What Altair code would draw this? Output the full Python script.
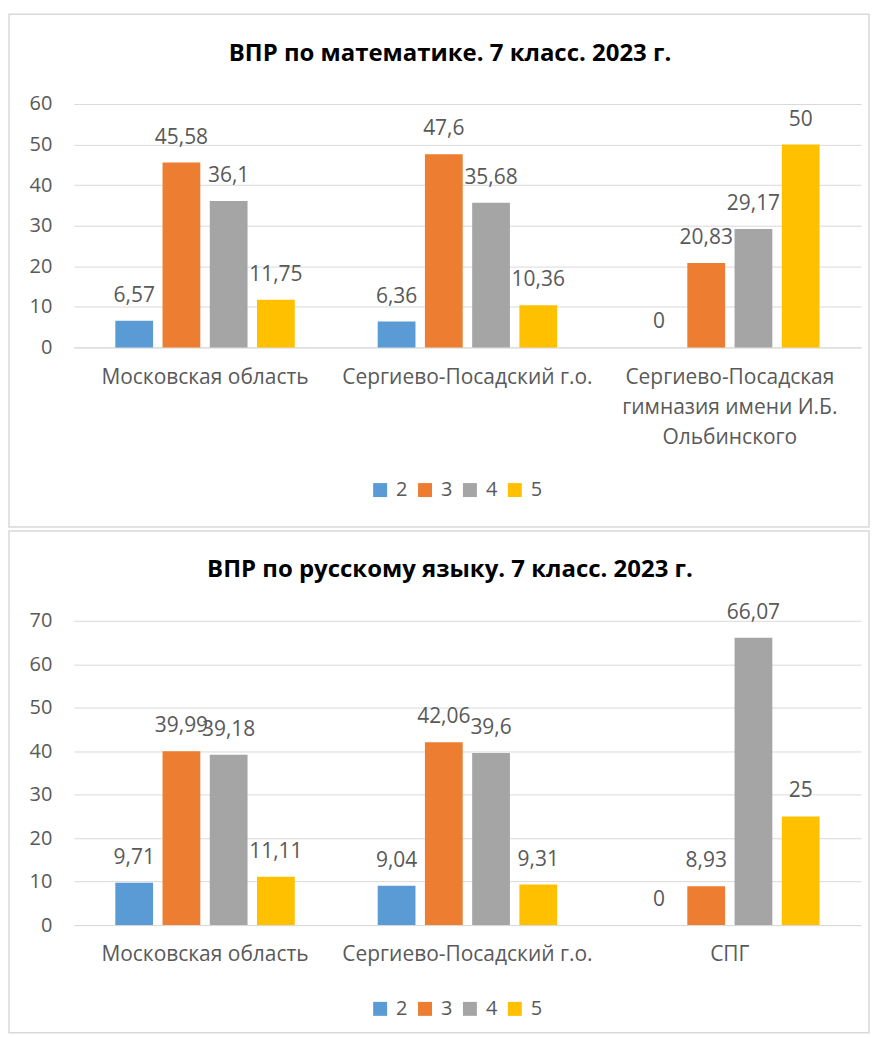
import altair as alt
import pandas as pd

grades = ["2", "3", "4", "5"]
colors = ["#5B9BD5", "#ED7D31", "#A5A5A5", "#FFC000"]

math_title = "ВПР по математике. 7 класс. 2023 г."
math_categories = ["Московская область", "Сергиево-Посадский г.о.",
                   "Сергиево-Посадская|гимназия имени И.Б.|Ольбинского"]
math_g2 = [6.57, 6.36, 0]
math_g3 = [45.58, 47.6, 20.83]
math_g4 = [36.1, 35.68, 29.17]
math_g5 = [11.75, 10.36, 50]

rus_title = "ВПР по русскому языку. 7 класс. 2023 г."
rus_categories = ["Московская область", "Сергиево-Посадский г.о.", "СПГ"]
rus_g2 = [9.71, 9.04, 0]
rus_g3 = [39.99, 42.06, 8.93]
rus_g4 = [39.18, 39.6, 66.07]
rus_g5 = [11.11, 9.31, 25]

FONT = "Open Sans"
TXT = "#595959"
GRID = "#d9d9d9"
W = 789


def fmt(v):
    return f"{v:g}".replace(".", ",")


def make_chart(title, cats, series, ymax, height, frame_bottom, legend_y, title_y):
    rows = []
    for g, vals in zip(grades, series):
        for c, v in zip(cats, vals):
            rows.append({"category": c, "grade": g, "value": v, "label": fmt(v)})
    df = pd.DataFrame(rows)

    x = alt.X("category:N", sort=cats,
              scale=alt.Scale(paddingInner=0.316, paddingOuter=0.158),
              axis=alt.Axis(title=None, labelExpr="split(datum.label, '|')", labelAngle=0,
                            labelFontSize=21, labelColor=TXT, labelFont=FONT, labelPadding=19,
                            labelLineHeight=30, ticks=False, domainColor=GRID, labelLimit=0,
                            grid=False, labelBaseline="top"))
    xo = alt.XOffset("grade:N", sort=grades, scale=alt.Scale(paddingInner=0.2, paddingOuter=0))
    y = alt.Y("value:Q", scale=alt.Scale(domain=[0, ymax], nice=False),
              axis=alt.Axis(title=None, values=list(range(0, ymax + 1, 10)), gridColor=GRID,
                            domain=False, ticks=False, labelFontSize=20, labelColor=TXT,
                            labelPadding=22, labelFont=FONT))
    color = alt.Color("grade:N", sort=grades, scale=alt.Scale(domain=grades, range=colors),
                      legend=alt.Legend(title=None, orient="none", legendX=297, legendY=legend_y,
                                        direction="horizontal", symbolType="square",
                                        symbolSize=196, labelFontSize=20, labelColor=TXT,
                                        labelFont=FONT, columnPadding=7, labelOffset=6,
                                        symbolStrokeWidth=0, padding=0))
    base = alt.Chart(df)
    bars = base.mark_bar().encode(x=x, xOffset=xo, y=y, color=color)
    labels = base.mark_text(dy=-25, fontSize=21, font=FONT, color=TXT, baseline="middle").encode(
        x=x, xOffset=xo, y="value:Q", text="label:N")
    one = alt.Chart(pd.DataFrame({"t": [title]}))
    frame = one.mark_rect(fillOpacity=0, stroke=GRID, strokeWidth=1.5).encode(
        x=alt.value(-65), x2=alt.value(797), y=alt.value(-90), y2=alt.value(frame_bottom))
    ttl = one.mark_text(fontSize=24, font=FONT, fontWeight="bold", color="#000000",
                        align="center", baseline="middle").encode(
        x=alt.value(377), y=alt.value(title_y), text="t:N")
    return alt.layer(frame, bars, labels, ttl).properties(width=W, height=height)


top = make_chart(math_title, math_categories, [math_g2, math_g3, math_g4, math_g5],
                 60, 244, 424, 377, -50)
bottom = make_chart(rus_title, rus_categories, [rus_g2, rus_g3, rus_g4, rus_g5],
                    70, 305, 413, 379, -51)

chart = alt.vconcat(top, bottom, spacing=2).resolve_scale(
    color="independent", x="independent", y="independent", xOffset="independent"
).properties(padding={"left": 0, "top": 4, "right": 0, "bottom": 0}).configure_view(strokeWidth=0)

chart.save("out.html", embed_options={"renderer": "svg", "actions": False})
